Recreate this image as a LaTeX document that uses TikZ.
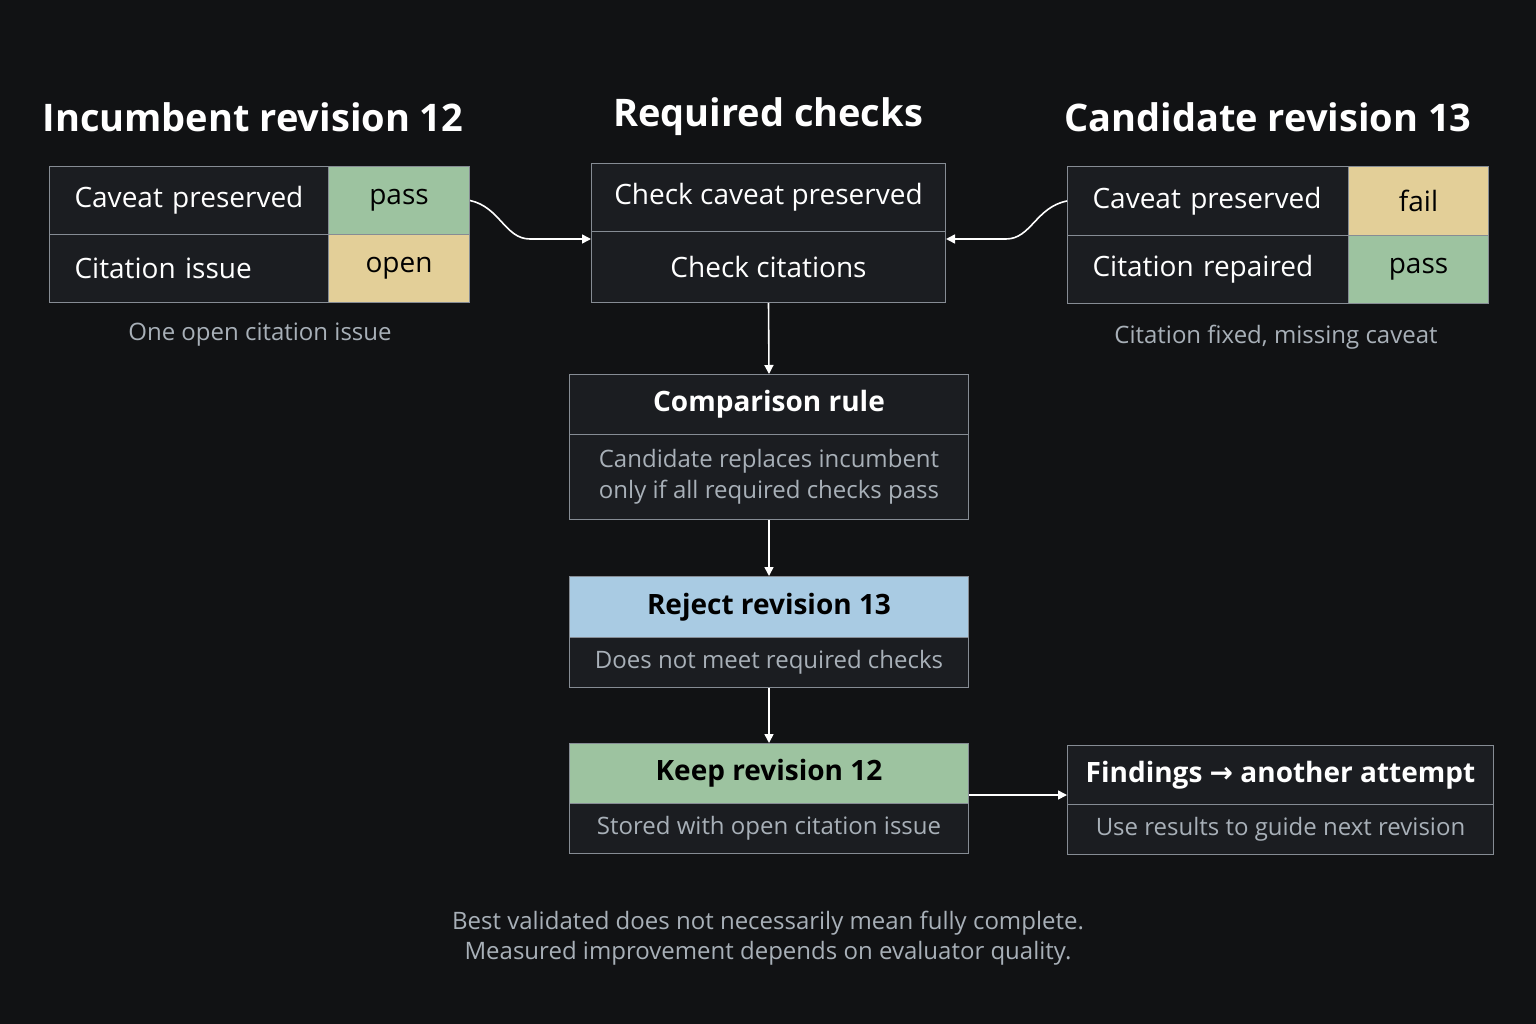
\documentclass[tikz,border=0pt]{standalone}
\usepackage{fontspec}
\setmainfont{Open Sans}
\usetikzlibrary{arrows.meta}
\definecolor{bg}{HTML}{111214}
\definecolor{boxf}{HTML}{1B1D21}
\definecolor{edge}{HTML}{868C94}
\definecolor{gr}{HTML}{9DC3A0}
\definecolor{ye}{HTML}{E3CF98}
\definecolor{bl}{HTML}{A9CBE3}
\definecolor{sub}{HTML}{A8B0B8}
\tikzset{
 cell/.style={draw=edge,line width=1pt,fill=boxf,text=white,inner sep=0pt,anchor=north west,font=\fontsize{28}{32}\selectfont},
 lcell/.style={cell,align=left,inner xsep=25pt},
 ccell/.style={cell,align=center},
 ttl/.style={text=white,font=\bfseries\fontsize{38}{44}\selectfont},
 capt/.style={text=sub,font=\fontsize{24}{30}\selectfont,align=center},
 arr/.style={draw=white,line width=1.6pt,-{Triangle[length=9pt,width=9pt]}},
}
\begin{document}
\begin{tikzpicture}[x=1pt,y=-1pt]
\fill[bg] (0,0) rectangle (1536,1024);
\useasboundingbox (0,0) rectangle (1536,1024);
% titles
\node[ttl] (t1) at (253,117) {Incumbent revision 12};
\node[ttl] (t2) at (768,117) {Required checks};
\node[ttl] (t3) at (1268,117) {Candidate revision 13};
% left table
\node[lcell,text width=229pt,minimum height=68pt] (l1) at (49,166) {Caveat preserved};
\node[lcell,text width=229pt,minimum height=68pt] (l2) at (49,234) {Citation issue};
\node[ccell,fill=gr,text=black,minimum width=141pt,minimum height=68pt] (l1v) at (328,166) {pass};
\node[ccell,fill=ye,text=black,minimum width=141pt,minimum height=68pt] (l2v) at (328,234) {open};
\node[capt] (c1) at (260,335) {One open citation issue};
% middle
\node[ccell,minimum width=354pt,minimum height=68pt] (m1) at (591,163) {Check caveat preserved};
\node[ccell,minimum width=354pt,minimum height=71pt] (m2) at (591,231) {Check citations};
% right table
\node[lcell,text width=231pt,minimum height=69pt] (r1) at (1067,166) {Caveat preserved};
\node[lcell,text width=231pt,minimum height=68pt] (r2) at (1067,235) {Citation repaired};
\node[ccell,fill=ye,text=black,minimum width=140pt,minimum height=69pt] (r1v) at (1348,166) {fail};
\node[ccell,fill=gr,text=black,minimum width=140pt,minimum height=68pt] (r2v) at (1348,235) {pass};
\node[capt] (c3) at (1276,337) {Citation fixed, missing caveat};
% comparison
\node[ccell,minimum width=399pt,minimum height=60pt,font=\bfseries\fontsize{28}{32}\selectfont] (k1) at (569,374) {Comparison rule};
\node[ccell,minimum width=399pt,minimum height=85pt,text=sub,font=\fontsize{24}{31}\selectfont] (k2) at (569,434) {Candidate replaces incumbent\\only if all required checks pass};
% reject
\node[ccell,fill=bl,text=black,minimum width=399pt,minimum height=61pt,font=\bfseries\fontsize{28}{32}\selectfont] (j1) at (569,576) {Reject revision 13};
\node[ccell,minimum width=399pt,minimum height=50pt,text=sub,font=\fontsize{24}{30}\selectfont] (j2) at (569,637) {Does not meet required checks};
% keep
\node[ccell,fill=gr,text=black,minimum width=399pt,minimum height=60pt,font=\bfseries\fontsize{28}{32}\selectfont] (p1) at (569,743) {Keep revision 12};
\node[ccell,minimum width=399pt,minimum height=50pt,text=sub,font=\fontsize{24}{30}\selectfont] (p2) at (569,803) {Stored with open citation issue};
% findings
\node[ccell,minimum width=426pt,minimum height=59pt,font=\bfseries\fontsize{28}{32}\selectfont] (f1) at (1067,745) {Findings {\fontspec{DejaVu Sans}\char"2192} another attempt};
\node[ccell,minimum width=426pt,minimum height=50pt,text=sub,font=\fontsize{24}{30}\selectfont] (f2) at (1067,804) {Use results to guide next revision};
% footer
\node[capt] (ft) at (768,938) {Best validated does not necessarily mean fully complete.\\Measured improvement depends on evaluator quality.};
% arrows
\coordinate (ma) at ([yshift=-8pt]m2.north west);
\coordinate (mb) at ([yshift=-8pt]m2.north east);
\draw[arr] (l1v.east) .. controls (500,207) and (505,239) .. (530,239) -- (ma);
\draw[arr] (r1.west) .. controls (1036,207) and (1031,239) .. (1006,239) -- (mb);
\draw[arr] (m2.south) -- (k1.north);
\draw[arr] (k2.south) -- (j1.north);
\draw[arr] (j2.south) -- (p1.north);
\coordinate (ka) at ([yshift=9pt]p1.south east);
\draw[arr] (ka) -- (ka -| f1.west);
\end{tikzpicture}
\end{document}
